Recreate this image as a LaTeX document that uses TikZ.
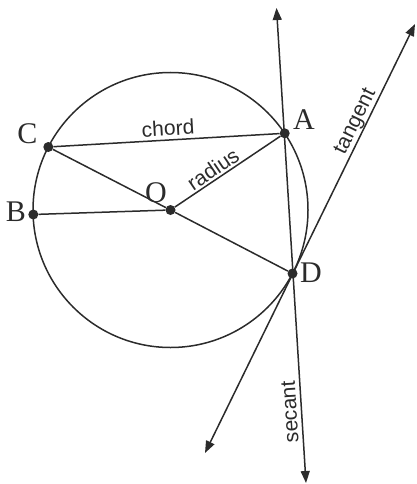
\documentclass[tikz,border=0pt]{standalone}
\usepackage{fontspec}
\setmainfont{Liberation Serif}
\setsansfont{Liberation Sans}
\usetikzlibrary{arrows.meta}
\definecolor{ink}{HTML}{2B2B2B}
\begin{document}
\begin{tikzpicture}[x=1pt,y=-1pt,
  line/.style={draw=ink,line width=1.5pt},
  arr/.style={line,{Triangle[length=12pt,width=9pt]}-{Triangle[length=12pt,width=9pt]}},
  dot/.style={circle,fill=ink,inner sep=0pt,minimum size=10pt},
  ptlabel/.style={text=ink,font=\fontsize{30}{30}\selectfont,inner sep=0pt},
  word/.style={text=ink,font=\sffamily\fontsize{21}{21}\selectfont,inner sep=0pt}]
\useasboundingbox (0,0) rectangle (417,484);
\coordinate (Oc) at (170.5,210);
\draw[line] (Oc) circle[radius=137.5pt];
\node[dot] (O) at (170.5,210) {};
\node[dot] (A) at (284.7,133.3) {};
\node[dot] (C) at (48.3,147) {};
\node[dot] (B) at (33.3,214.5) {};
\node[dot] (D) at (292.5,273.5) {};
\coordinate (secTop) at (276.5,8);
\coordinate (secBot) at (306,483);
\coordinate (tanTop) at (415,24);
\coordinate (tanBot) at (205,453);
\draw[line] (C) -- (A);
\draw[line] (C) -- (O);
\draw[line] (O) -- (D);
\draw[line] (B) -- (O);
\draw[line] (O) -- (A);
\draw[arr] (secBot) -- (secTop);
\draw[arr] (tanBot) -- (tanTop);
\node[ptlabel] (lC) at (27.5,134) {C};
\node[ptlabel] (lA) at (304,120) {A};
\node[ptlabel] (lB) at (16,211.5) {B};
\node[ptlabel] (lO) at (156,192.5) {O};
\node[ptlabel] (lD) at (311,273) {D};
\node[word,rotate=3.4] (wchord) at (168,128) {chord};
\node[word,rotate=34] (wradius) at (213,169) {radius};
\node[word,rotate=63.8] (wtangent) at (356,122) {tangent};
\node[word,rotate=93.5] (wsecant) at (290,412) {secant};
\end{tikzpicture}
\end{document}
